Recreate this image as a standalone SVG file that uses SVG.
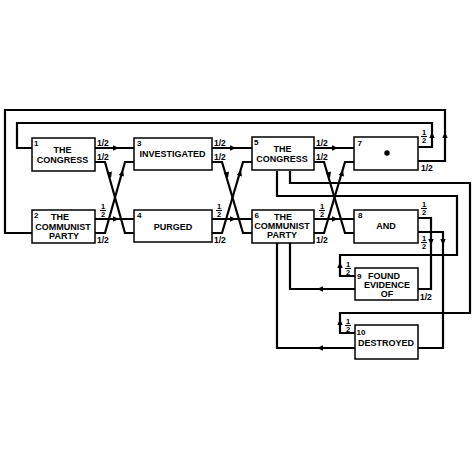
<svg xmlns="http://www.w3.org/2000/svg" xmlns:xlink="http://www.w3.org/1999/xlink" width="472" height="472" viewBox="0 0 472 472">
<style>
.box{fill:#fff;stroke:#000;stroke-width:1.5}
.c{fill:none;stroke:#000;stroke-width:2.2}
.t{font-family:"Liberation Sans",Arial,sans-serif;font-weight:bold;font-size:9px;text-anchor:middle;fill:#000}
.n{font-family:"Liberation Sans",Arial,sans-serif;font-weight:bold;font-size:8px;fill:#000}
.h{font-family:"Liberation Sans",Arial,sans-serif;font-weight:bold;font-size:8.5px;fill:#000}
.f{font-family:"Liberation Sans",Arial,sans-serif;font-weight:bold;font-size:7.5px;text-anchor:middle;fill:#000}
.bar{stroke:#000;stroke-width:1.1}
</style>
<defs>
<path id="ah" d="M0,0 L-6,-2.7 L-6,2.7 Z" fill="#000"/>
</defs>
<rect width="472" height="472" fill="#fff"/>
<g id="connectors">
<path class="c" d="M95,148 H134"/>
<path class="c" d="M95,219 H134"/>
<path class="c" d="M95,162 H105 L125,233 H134"/>
<path class="c" d="M95,233 H105 L125,162 H134"/>
<path class="c" d="M212,148 H252"/>
<path class="c" d="M212,219 H252"/>
<path class="c" d="M212,162 H222 L243,233 H252"/>
<path class="c" d="M212,233 H222 L243,162 H252"/>
<path class="c" d="M314,148 H354"/>
<path class="c" d="M314,219 H354"/>
<path class="c" d="M314,162 H324 L345,233 H354"/>
<path class="c" d="M314,233 H324 L345,162 H354"/>
<path class="c" d="M418,147 H432 V123 H17 V148 H32"/>
<path class="c" d="M418,161 H445 V110 H5 V233 H32"/>
<path class="c" d="M277,171 V196 H457 V255 H340 V276 H355"/>
<path class="c" d="M290,171 V183 H470 V313 H340 V333 H355"/>
<path class="c" d="M418,218 H431 V289 H418"/>
<path class="c" d="M418,232 H443 V348 H418"/>
<path class="c" d="M290,243 V289 H355"/>
<path class="c" d="M277,243 V348 H355"/>
<use xlink:href="#ah" transform="translate(119,148)"/>
<use xlink:href="#ah" transform="translate(119,219)"/>
<use xlink:href="#ah" transform="translate(111,178) rotate(74.3)"/>
<use xlink:href="#ah" transform="translate(123,170) rotate(-74.3)"/>
<use xlink:href="#ah" transform="translate(236,148)"/>
<use xlink:href="#ah" transform="translate(236,219)"/>
<use xlink:href="#ah" transform="translate(228,178) rotate(74.3)"/>
<use xlink:href="#ah" transform="translate(241,170) rotate(-74.3)"/>
<use xlink:href="#ah" transform="translate(338,148)"/>
<use xlink:href="#ah" transform="translate(338,219)"/>
<use xlink:href="#ah" transform="translate(330,178) rotate(74.3)"/>
<use xlink:href="#ah" transform="translate(343,170) rotate(-74.3)"/>
<use xlink:href="#ah" transform="translate(432,132) rotate(-90)"/>
<use xlink:href="#ah" transform="translate(445,132) rotate(-90)"/>
<use xlink:href="#ah" transform="translate(431,245) rotate(90)"/>
<use xlink:href="#ah" transform="translate(443,245) rotate(90)"/>
<use xlink:href="#ah" transform="translate(340,262) rotate(-90)"/>
<use xlink:href="#ah" transform="translate(340,319) rotate(-90)"/>
<use xlink:href="#ah" transform="translate(317,289) rotate(180)"/>
<use xlink:href="#ah" transform="translate(317,348) rotate(180)"/>
</g>
<g id="labels">
<text class="h" x="97" y="145.5">1/2</text>
<text class="h" x="97" y="160">1/2</text>
<text class="h" x="97" y="243">1/2</text>
<text class="h" x="214" y="145.5">1/2</text>
<text class="h" x="214" y="160">1/2</text>
<text class="h" x="214" y="243">1/2</text>
<text class="h" x="316" y="145.5">1/2</text>
<text class="h" x="316" y="160">1/2</text>
<text class="h" x="316" y="243">1/2</text>
<text class="h" x="421" y="171">1/2</text>
<text class="h" x="420" y="299.5">1/2</text>
<g id="fr-2"><text class="f" x="103" y="208.5">1</text><line class="bar" x1="100" y1="210.5" x2="106" y2="210.5"/><text class="f" x="103" y="217">2</text></g>
<g id="fr-4"><text class="f" x="219" y="208.5">1</text><line class="bar" x1="216" y1="210.5" x2="222" y2="210.5"/><text class="f" x="219" y="217">2</text></g>
<g id="fr-6"><text class="f" x="322" y="208.5">1</text><line class="bar" x1="319" y1="210.5" x2="325" y2="210.5"/><text class="f" x="322" y="217">2</text></g>
<g id="fr-7"><text class="f" x="424" y="134.5">1</text><line class="bar" x1="421" y1="136.5" x2="427" y2="136.5"/><text class="f" x="424" y="143">2</text></g>
<g id="fr-8a"><text class="f" x="424" y="206.5">1</text><line class="bar" x1="421" y1="208.5" x2="427" y2="208.5"/><text class="f" x="424" y="215">2</text></g>
<g id="fr-8b"><text class="f" x="424" y="240.5">1</text><line class="bar" x1="421" y1="242.5" x2="427" y2="242.5"/><text class="f" x="424" y="249">2</text></g>
<g id="fr-9"><text class="f" x="348" y="266.5">1</text><line class="bar" x1="345" y1="268.5" x2="351" y2="268.5"/><text class="f" x="348" y="275">2</text></g>
<g id="fr-10"><text class="f" x="348" y="323.5">1</text><line class="bar" x1="345" y1="325.5" x2="351" y2="325.5"/><text class="f" x="348" y="332">2</text></g>
</g>
<g id="node1"><rect class="box" x="32" y="138" width="63" height="33"/><text class="n" x="34" y="145.5">1</text><text class="t" x="62.5" y="152.5">THE</text><text class="t" x="62.5" y="162.5">CONGRESS</text></g>
<g id="node2"><rect class="box" x="32" y="210" width="63" height="33"/><text class="n" x="34" y="217.5">2</text><text class="t" x="60" y="220">THE</text><text class="t" x="63" y="229.5">COMMUNIST</text><text class="t" x="64" y="238.5">PARTY</text></g>
<g id="node3"><rect class="box" x="134" y="138" width="78" height="32"/><text class="n" x="137" y="146">3</text><text class="t" x="172.5" y="157">INVESTIGATED</text></g>
<g id="node4"><rect class="box" x="134" y="210" width="78" height="32"/><text class="n" x="137" y="217.5">4</text><text class="t" x="173" y="229.5">PURGED</text></g>
<g id="node5"><rect class="box" x="252" y="137" width="62" height="33"/><text class="n" x="254" y="145">5</text><text class="t" x="282.5" y="152">THE</text><text class="t" x="282" y="161.5">CONGRESS</text></g>
<g id="node6"><rect class="box" x="252" y="210" width="62" height="33"/><text class="n" x="254.5" y="217.5">6</text><text class="t" x="283" y="220">THE</text><text class="t" x="282" y="229">COMMUNIST</text><text class="t" x="282" y="238">PARTY</text></g>
<g id="node7"><rect class="box" x="354" y="137" width="64" height="33"/><text class="n" x="357.5" y="145.5">7</text><circle cx="387" cy="153" r="2.7" fill="#000"/></g>
<g id="node8"><rect class="box" x="354" y="210" width="64" height="33"/><text class="n" x="358" y="218">8</text><text class="t" x="386" y="228.5">AND</text></g>
<g id="node9"><rect class="box" x="355" y="268" width="63" height="32"/><text class="n" x="357" y="278.5">9</text><text class="t" x="384" y="278.5">FOUND</text><text class="t" x="387" y="287.5">EVIDENCE</text><text class="t" x="387" y="296.5">OF</text></g>
<g id="node10"><rect class="box" x="355" y="325" width="63" height="34"/><text class="n" x="356.5" y="334.5">10</text><text class="t" x="386" y="346">DESTROYED</text></g>
</svg>
